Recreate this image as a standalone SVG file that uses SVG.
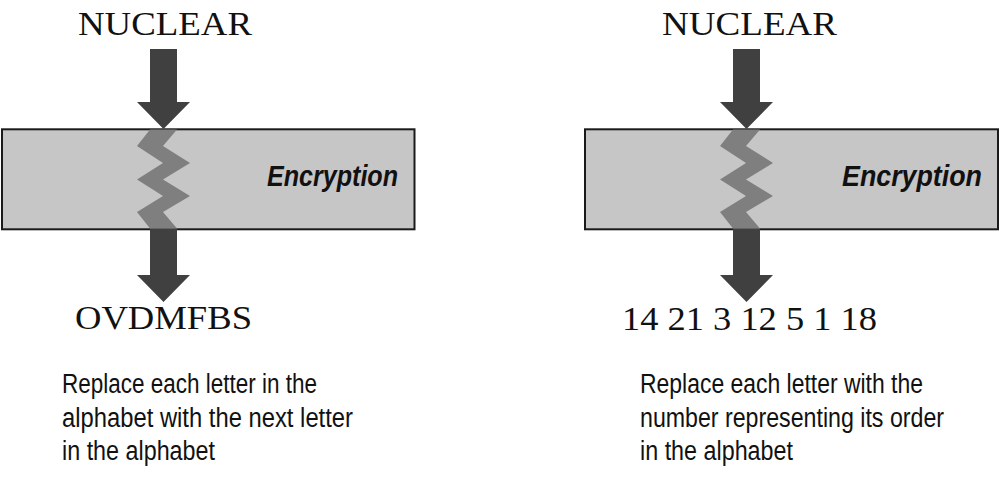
<svg xmlns="http://www.w3.org/2000/svg" width="1000" height="501" viewBox="0 0 1000 501">
<style>
.box{fill:#c6c6c6;stroke:#1a1a1a;stroke-width:2}
.arrow{fill:#404040}
.zig{fill:#7f7f7f}
.serif{font-family:"Liberation Serif","Times New Roman",serif;font-size:34px;fill:#111}
.enc{font-family:"Liberation Sans",Arial,sans-serif;font-size:29px;font-weight:bold;font-style:italic;fill:#111}
.desc{font-family:"Liberation Sans",Arial,sans-serif;font-size:27px;fill:#111}
</style>
<rect width="1000" height="501" fill="#fff"/>
<defs>
<path id="arrowIn" d="M150,49 H177 V102 H190 L163.5,129 L137,102 H150 Z"/>
<path id="arrowOut" d="M150,229 H177 V275 H190 L163.5,302 L137,275 H150 Z"/>
<path id="zigzag" d="M150,129.5 L137,146 L163,163 L137,179.5 L163,196 L137,212 L150,228.5 H177 L163,212 L190,196 L163,179.5 L190,163 L163,146 L177,129.5 Z"/>
</defs>
<g id="left-encryption">
<rect class="box" x="2" y="129.3" width="412.5" height="100"/>
<text class="enc" x="398" y="186" text-anchor="end" textLength="131" lengthAdjust="spacingAndGlyphs">Encryption</text>
</g>
<g id="left-input"><text class="serif" x="78" y="35" textLength="174" lengthAdjust="spacingAndGlyphs">NUCLEAR</text></g>
<g id="left-output"><text class="serif" x="75" y="329" textLength="177" lengthAdjust="spacingAndGlyphs">OVDMFBS</text></g>
<g id="left-description">
<text class="desc" x="62" y="393" textLength="255" lengthAdjust="spacingAndGlyphs">Replace each letter in the</text>
<text class="desc" x="62" y="427" textLength="291" lengthAdjust="spacingAndGlyphs">alphabet with the next letter</text>
<text class="desc" x="62" y="460" textLength="153" lengthAdjust="spacingAndGlyphs">in the alphabet</text>
</g>
<g id="right-encryption">
<rect class="box" x="585" y="129.3" width="413" height="100"/>
<text class="enc" x="982" y="186" text-anchor="end" textLength="140" lengthAdjust="spacingAndGlyphs">Encryption</text>
</g>
<g id="right-input"><text class="serif" x="662" y="35" textLength="175" lengthAdjust="spacingAndGlyphs">NUCLEAR</text></g>
<g id="right-output"><text class="serif" x="622" y="330" textLength="255" lengthAdjust="spacingAndGlyphs">14 21 3 12 5 1 18</text></g>
<g id="right-description">
<text class="desc" x="640" y="393" textLength="283" lengthAdjust="spacingAndGlyphs">Replace each letter with the</text>
<text class="desc" x="640" y="427" textLength="304" lengthAdjust="spacingAndGlyphs">number representing its order</text>
<text class="desc" x="640" y="460" textLength="153" lengthAdjust="spacingAndGlyphs">in the alphabet</text>
</g>
<g id="connectors">
<use href="#arrowIn" class="arrow"/>
<use href="#arrowOut" class="arrow"/>
<use href="#zigzag" class="zig"/>
<use href="#arrowIn" class="arrow" transform="translate(583,0)"/>
<use href="#arrowOut" class="arrow" transform="translate(583,0)"/>
<use href="#zigzag" class="zig" transform="translate(583,0)"/>
</g>
</svg>
